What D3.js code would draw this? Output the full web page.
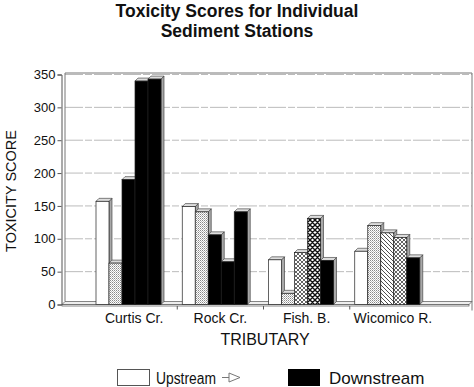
<!DOCTYPE html>
<html>
<head>
<meta charset="utf-8">
<script src="https://d3js.org/d3.v7.min.js"></script>
<style>
  body { margin: 0; background: #fff; }
  text { font-family: "Liberation Sans", Arial, sans-serif; fill: #111; }
</style>
</head>
<body>
<div id="chart"></div>
<script>

// tributaries and station scores, upstream -> downstream
var tributaries = ["Curtis Cr.", "Rock Cr.", "Fish. B.", "Wicomico R."];
var curtisScores    = [157, 63, 190, 340, 343];
var rockScores      = [149, 141, 106, 65, 141];
var fishScores      = [68, 17, 79, 131, 67];
var wicomicoScores  = [81, 120, 109, 102, 71];
var curtisFills     = ["white", "dots", "black", "black", "black"];
var rockFills       = ["white", "dots", "black", "black", "black"];
var fishFills       = ["white", "dots", "cross", "dense", "black"];
var wicomicoFills   = ["white", "dots", "diag", "cross", "black"];
var yTicks = [0, 50, 100, 150, 200, 250, 300, 350];

var scores = [curtisScores, rockScores, fishScores, wicomicoScores];
var fills = [curtisFills, rockFills, fishFills, wicomicoFills];

var width = 474, height = 387;
var plotLeft = 62, plotRight = 472, plotTop = 74.5, plotBottom = 304.5;
var dx = 3, dy = -3;

var svg = d3.select("#chart").append("svg")
  .attr("width", width)
  .attr("height", height);

var defs = svg.append("defs");
var p = defs.append("pattern").attr("id", "dots").attr("patternUnits", "userSpaceOnUse")
  .attr("width", 2).attr("height", 2);
p.append("rect").attr("width", 2).attr("height", 2).attr("fill", "#fff");
p.append("rect").attr("width", 1).attr("height", 1).attr("fill", "#888");
p.append("rect").attr("x", 1).attr("y", 1).attr("width", 1).attr("height", 1).attr("fill", "#bbb");

p = defs.append("pattern").attr("id", "diag").attr("patternUnits", "userSpaceOnUse")
  .attr("width", 4).attr("height", 4);
p.append("rect").attr("width", 4).attr("height", 4).attr("fill", "#fff");
p.append("path").attr("d", "M-1,-1L5,5M-1,3L1,5M3,-1L5,1").attr("stroke", "#222").attr("stroke-width", 0.8);

p = defs.append("pattern").attr("id", "cross").attr("patternUnits", "userSpaceOnUse")
  .attr("width", 4).attr("height", 4);
p.append("rect").attr("width", 4).attr("height", 4).attr("fill", "#fff");
p.append("path").attr("d", "M-1,-1L5,5M-1,3L1,5M3,-1L5,1M-1,5L5,-1M-1,1L1,-1M3,5L5,3").attr("stroke", "#222").attr("stroke-width", 0.7);

p = defs.append("pattern").attr("id", "dense").attr("patternUnits", "userSpaceOnUse")
  .attr("width", 5).attr("height", 5);
p.append("rect").attr("width", 5).attr("height", 5).attr("fill", "#fff");
p.append("path").attr("d", "M-1,-1L6,6M-1,4L1,6M4,-1L6,1M-1,6L6,-1M-1,1L1,-1M4,6L6,4").attr("stroke", "#111").attr("stroke-width", 1.4);

function fillOf(f) {
  if (f === "white") return "#fff";
  if (f === "black") return "#000";
  return "url(#" + f + ")";
}

var y = d3.scaleLinear().domain([0, 350]).range([plotBottom, plotTop]);
var x = d3.scaleBand().domain(tributaries).range([91, 436]);
var xs = d3.scaleBand().domain(d3.range(6)).range([5, 83]);

// back wall
svg.append("g").selectAll("line")
  .data(yTicks.slice(1))
  .join("line")
    .attr("x1", plotLeft + dx).attr("x2", plotRight)
    .attr("y1", function(d) { return y(d); })
    .attr("y2", function(d) { return y(d); })
    .attr("stroke", "#aaa")
    .attr("stroke-dasharray", "18,2,7,2")
    .attr("stroke-width", 0.8);

svg.append("path")
  .attr("d", "M" + (plotLeft + dx) + "," + (plotBottom + dy) + "V" + (plotTop - 1.5) + "H" + plotRight + "V" + (plotBottom + 6))
  .attr("fill", "none").attr("stroke", "#777").attr("stroke-width", 1);

// floor slab
svg.append("path")
  .attr("d", "M" + plotLeft + "," + plotBottom + "L" + (plotLeft + dx) + "," + (plotBottom + dy) + "H" + plotRight + "L" + (plotRight - dx) + "," + plotBottom + "Z")
  .attr("fill", "#eee").attr("stroke", "#555").attr("stroke-width", 0.7);
svg.append("rect")
  .attr("x", plotLeft).attr("y", plotBottom).attr("width", plotRight - dx - plotLeft).attr("height", 1.5)
  .attr("fill", "#fff").attr("stroke", "#555").attr("stroke-width", 0.7);

// y axis
var yAxis = svg.append("g")
  .attr("transform", "translate(" + (plotLeft - 0.5) + ",0)")
  .call(d3.axisLeft(y).tickValues(yTicks).tickSize(4).tickPadding(2));
yAxis.select(".domain").attr("stroke", "#555");
yAxis.selectAll(".tick line").attr("stroke", "#555");
yAxis.selectAll("text").style("font-size", "13px").attr("fill", "#111");

// bars
var bars = [];
scores.forEach(function(s, i) {
  s.forEach(function(v, j) {
    bars.push({ trib: tributaries[i], slot: j, value: v, fill: fills[i][j] });
  });
});

var g = svg.append("g");
bars.forEach(function(d) {
  var x0 = x(d.trib) + xs(d.slot), w = xs.bandwidth();
  var yt = y(d.value), yb = y(0);
  var b = g.append("g");
  b.append("path")
    .attr("d", "M" + (x0 + w) + "," + yt + "L" + (x0 + w + dx) + "," + (yt + dy) + "V" + (yb + dy) + "L" + (x0 + w) + "," + yb + "Z")
    .attr("fill", "#a8a8a8").attr("stroke", "#333").attr("stroke-width", 0.6);
  b.append("path")
    .attr("d", "M" + x0 + "," + yt + "L" + (x0 + dx) + "," + (yt + dy) + "H" + (x0 + w + dx) + "L" + (x0 + w) + "," + yt + "Z")
    .attr("fill", "#ddd").attr("stroke", "#333").attr("stroke-width", 0.6);
  b.append("rect")
    .attr("x", x0).attr("y", yt).attr("width", w).attr("height", yb - yt)
    .attr("fill", fillOf(d.fill)).attr("stroke", "#222").attr("stroke-width", 0.7);
});

// x axis
svg.append("g").selectAll("line")
  .data(tributaries.slice(1))
  .join("line")
    .attr("x1", function(d) { return x(d); })
    .attr("x2", function(d) { return x(d); })
    .attr("y1", plotBottom + 1.5).attr("y2", plotBottom + 5)
    .attr("stroke", "#555");

svg.append("g").selectAll("text")
  .data(tributaries)
  .join("text")
    .attr("x", function(d) { return x(d) + x.bandwidth() / 2; })
    .attr("y", 323)
    .attr("text-anchor", "middle")
    .style("font-size", "14px")
    .text(function(d) { return d; });

// titles
var title = svg.append("text")
  .attr("text-anchor", "middle")
  .style("font-size", "17.5px").style("font-weight", "bold");
title.append("tspan").attr("x", 237).attr("y", 17).text("Toxicity Scores for Individual");
title.append("tspan").attr("x", 237).attr("y", 37).text("Sediment Stations");

svg.append("text")
  .attr("transform", "translate(16,191) rotate(-90)")
  .attr("text-anchor", "middle")
  .style("font-size", "14.5px")
  .text("TOXICITY SCORE");

svg.append("text")
  .attr("x", 265).attr("y", 345)
  .attr("text-anchor", "middle")
  .style("font-size", "16px")
  .text("TRIBUTARY");

// legend
var lg = svg.append("g");
lg.append("rect").attr("x", 117.5).attr("y", 369.5).attr("width", 32).attr("height", 16)
  .attr("fill", "#fff").attr("stroke", "#555");
lg.append("text").attr("x", 156).attr("y", 384).style("font-size", "16px")
  .attr("textLength", 60).attr("lengthAdjust", "spacingAndGlyphs").text("Upstream");
lg.append("path").attr("d", "M222,377.5H229").attr("stroke", "#777");
lg.append("path").attr("d", "M229,373L240,377.5L229,382Z").attr("fill", "#fff").attr("stroke", "#777");
lg.append("rect").attr("x", 288).attr("y", 369).attr("width", 32).attr("height", 17).attr("fill", "#000");
lg.append("text").attr("x", 329).attr("y", 384).style("font-size", "17px").text("Downstream");

</script>
</body>
</html>
